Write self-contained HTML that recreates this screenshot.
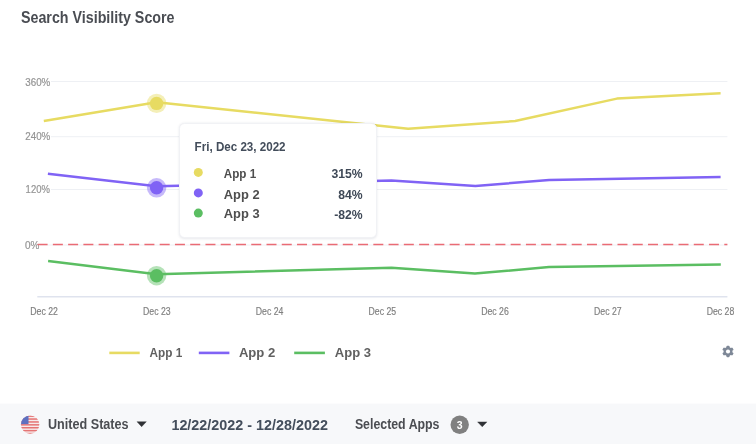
<!DOCTYPE html>
<html>
<head>
<meta charset="utf-8">
<style>
html,body{margin:0;padding:0;background:#fff;width:756px;height:444px;overflow:hidden}
svg{display:block}
body{position:relative}
.ov{position:absolute;left:0;top:0}
.tt{position:absolute;left:179.2px;top:122.8px;width:198.1px;height:114.9px;box-sizing:border-box;background:#fff;border:0.8px solid #f1f2f5;border-radius:5.5px;box-shadow:0 0.5px 2.5px rgba(26,43,76,0.10)}
text{font-family:"Liberation Sans",Arial,sans-serif}
</style>
</head>
<body>
<svg width="756" height="444" viewBox="0 0 756 444">
  <rect x="0" y="0" width="756" height="444" fill="#ffffff"/>
  <!-- title -->
  <text x="21" y="22.5" font-size="16" font-weight="700" fill="#4a4d53" textLength="153.5" lengthAdjust="spacingAndGlyphs">Search Visibility Score</text>

  <!-- grid -->
  <g stroke="#eef0f4" stroke-width="1">
    <line x1="37.5" y1="81.5" x2="727.4" y2="81.5"/>
    <line x1="37.5" y1="136.7" x2="727.4" y2="136.7"/>
    <line x1="37.5" y1="189.5" x2="727.4" y2="189.5"/>
    <line x1="37.5" y1="245" x2="727.4" y2="245"/>
  </g>
  <line x1="37.3" y1="296.8" x2="727.4" y2="296.8" stroke="#dfe3ee" stroke-width="1.6"/>

  <!-- y labels (with white bg) -->
  <g font-size="11" fill="#949494" stroke="#949494" stroke-width="0.2">
    <rect x="24" y="76" width="27" height="12" fill="#fff" stroke="none"/>
    <text x="25.3" y="85.8" textLength="25" lengthAdjust="spacingAndGlyphs">360%</text>
    <rect x="24" y="130" width="27" height="12" fill="#fff" stroke="none"/>
    <text x="25.3" y="139.7" textLength="25" lengthAdjust="spacingAndGlyphs">240%</text>
    <rect x="24" y="183" width="27" height="12" fill="#fff" stroke="none"/>
    <text x="25.6" y="192.8" textLength="24.3" lengthAdjust="spacingAndGlyphs">120%</text>
    <rect x="24" y="238" width="16" height="12" fill="#fff" stroke="none"/>
    <text x="25" y="248.6" textLength="14.4" lengthAdjust="spacingAndGlyphs">0%</text>
  </g>

  <!-- zero dashed line -->
  <line x1="37.6" y1="244.5" x2="727.4" y2="244.5" stroke="#ea6b75" stroke-width="1.6" stroke-dasharray="10 5.26"/>

  <!-- x labels -->
  <g font-size="10" fill="#7f7f7f" stroke="#7f7f7f" stroke-width="0.16" text-anchor="middle">
    <text x="44.1" y="314.6" textLength="27.6" lengthAdjust="spacingAndGlyphs">Dec 22</text>
    <text x="156.8" y="314.6" textLength="27.6" lengthAdjust="spacingAndGlyphs">Dec 23</text>
    <text x="269.6" y="314.6" textLength="27.6" lengthAdjust="spacingAndGlyphs">Dec 24</text>
    <text x="382.3" y="314.6" textLength="27.6" lengthAdjust="spacingAndGlyphs">Dec 25</text>
    <text x="495.0" y="314.6" textLength="27.6" lengthAdjust="spacingAndGlyphs">Dec 26</text>
    <text x="607.8" y="314.6" textLength="27.6" lengthAdjust="spacingAndGlyphs">Dec 27</text>
    <text x="720.5" y="314.6" textLength="27.6" lengthAdjust="spacingAndGlyphs">Dec 28</text>
  </g>

  <!-- series -->
  <g fill="none" stroke-width="2.5" stroke-linejoin="round" stroke-linecap="butt">
    <polyline stroke="#e7db62" points="43.8,121 156.6,102.2 408.2,128.8 515.2,121 616.9,98.6 720.6,93.2"/>
    <polyline stroke="#8063f5" points="47.9,173.8 156.6,186.3 391.4,180.6 475.4,185.9 549.2,180.1 720.6,176.9"/>
    <polyline stroke="#5bbe62" points="48.1,261.1 156.6,274.3 391.4,267.7 474.9,273.6 549,267.1 720.8,264.6"/>
  </g>

  <!-- markers -->
  <circle cx="156.6" cy="103.4" r="9.7" fill="#e7db62" fill-opacity="0.45"/>
  <circle cx="156.6" cy="103.4" r="6.7" fill="#e7db62"/>
  <circle cx="156.6" cy="187.8" r="9.7" fill="#8063f5" fill-opacity="0.45"/>
  <circle cx="156.6" cy="187.8" r="6.7" fill="#8063f5"/>
  <circle cx="156.6" cy="275.7" r="9.7" fill="#5bbe62" fill-opacity="0.45"/>
  <circle cx="156.6" cy="275.7" r="6.7" fill="#5bbe62"/>

  <!-- tooltip -->
  <!-- tooltip moved -->
  <!-- legend -->
  <g stroke-width="2.6">
    <line x1="109.3" y1="352.9" x2="139.7" y2="352.9" stroke="#e7db62"/>
    <line x1="198.8" y1="352.9" x2="229.4" y2="352.9" stroke="#8063f5"/>
    <line x1="294.2" y1="352.9" x2="324.9" y2="352.9" stroke="#5bbe62"/>
  </g>
  <g font-size="12.5" font-weight="700" fill="#606060">
    <text x="149.6" y="356.8" textLength="32.7" lengthAdjust="spacingAndGlyphs">App 1</text>
    <text x="238.9" y="356.8" textLength="36.4" lengthAdjust="spacingAndGlyphs">App 2</text>
    <text x="334.8" y="356.8" textLength="36.2" lengthAdjust="spacingAndGlyphs">App 3</text>
  </g>

  <!-- gear -->
  <g transform="translate(728,351.5) scale(1.03)" fill="#7e8897">
    <circle r="4.3"/>
    <g><rect x="-1.5" y="-5.6" width="3" height="3" rx="0.8"/>
    <rect x="-1.5" y="-5.6" width="3" height="3" rx="0.8" transform="rotate(60)"/>
    <rect x="-1.5" y="-5.6" width="3" height="3" rx="0.8" transform="rotate(120)"/>
    <rect x="-1.5" y="-5.6" width="3" height="3" rx="0.8" transform="rotate(180)"/>
    <rect x="-1.5" y="-5.6" width="3" height="3" rx="0.8" transform="rotate(240)"/>
    <rect x="-1.5" y="-5.6" width="3" height="3" rx="0.8" transform="rotate(300)"/></g>
    <circle r="2" fill="#fff"/>
  </g>

  <!-- bottom bar -->
  <rect x="0" y="403.6" width="756" height="41" fill="#f7f8fa"/>
  <!-- flag -->
  <defs>
    <clipPath id="fc"><circle cx="30.1" cy="424.6" r="9.2"/></clipPath>
  </defs>
  <g clip-path="url(#fc)">
    <rect x="20" y="415" width="20" height="20" fill="#f6eaea"/>
    <g fill="#e57474"><rect x="20" y="415.40" width="20" height="1.5"/><rect x="20" y="418.30" width="20" height="1.5"/><rect x="20" y="421.20" width="20" height="1.5"/><rect x="20" y="424.10" width="20" height="1.5"/><rect x="20" y="427.00" width="20" height="1.5"/><rect x="20" y="429.90" width="20" height="1.5"/><rect x="20" y="432.80" width="20" height="1.5"/></g>
    <rect x="20" y="415" width="8.5" height="9.1" fill="#5d70c0"/>
  </g>
  <text x="48" y="429.2" font-size="14" font-weight="700" fill="#4b4d52" textLength="80.6" lengthAdjust="spacingAndGlyphs">United States</text>
  <path d="M137,421.7 L146.3,421.7 L141.65,426.7 Z" fill="#303236" stroke="#303236" stroke-width="0.4" stroke-linejoin="round"/>
  <text x="171.4" y="430" font-size="15" font-weight="700" fill="#444e5c" textLength="156.5" lengthAdjust="spacingAndGlyphs">12/22/2022 - 12/28/2022</text>
  <text x="354.9" y="429.2" font-size="14" font-weight="700" fill="#4b4d52" textLength="84.6" lengthAdjust="spacingAndGlyphs">Selected Apps</text>
  <circle cx="459.7" cy="424.8" r="9.2" fill="#808080"/>
  <text x="459.7" y="428.7" font-size="10.5" font-weight="700" fill="#fff" text-anchor="middle">3</text>
  <path d="M477.6,421.9 L486.9,421.9 L482.25,426.8 Z" fill="#303236" stroke="#303236" stroke-width="0.4" stroke-linejoin="round"/>
</svg>
<div class="tt"></div>
<svg class="ov" width="756" height="444" viewBox="0 0 756 444">
  <text x="194.6" y="150.9" font-size="11.9" font-weight="700" fill="#434d5b" textLength="91" lengthAdjust="spacingAndGlyphs">Fri, Dec 23, 2022</text>
  <circle cx="198.3" cy="172.4" r="4.5" fill="#e7db62"/>
  <circle cx="198.3" cy="192.9" r="4.5" fill="#8063f5"/>
  <circle cx="198.3" cy="213.1" r="4.5" fill="#5bbe62"/>
  <g font-size="12" font-weight="700" fill="#4e4e4e">
    <text x="223.8" y="178.1" textLength="32.4" lengthAdjust="spacingAndGlyphs">App 1</text>
    <text x="223.8" y="198.5" textLength="35.8" lengthAdjust="spacingAndGlyphs">App 2</text>
    <text x="223.8" y="218.4" textLength="35.8" lengthAdjust="spacingAndGlyphs">App 3</text>
  </g>
  <g font-size="12.2" font-weight="700" fill="#3f4957" text-anchor="end">
    <text x="362.6" y="178.2">315%</text>
    <text x="362.6" y="198.5">84%</text>
    <text x="362.6" y="218.7">-82%</text>
  </g>
</svg>
</body>
</html>
